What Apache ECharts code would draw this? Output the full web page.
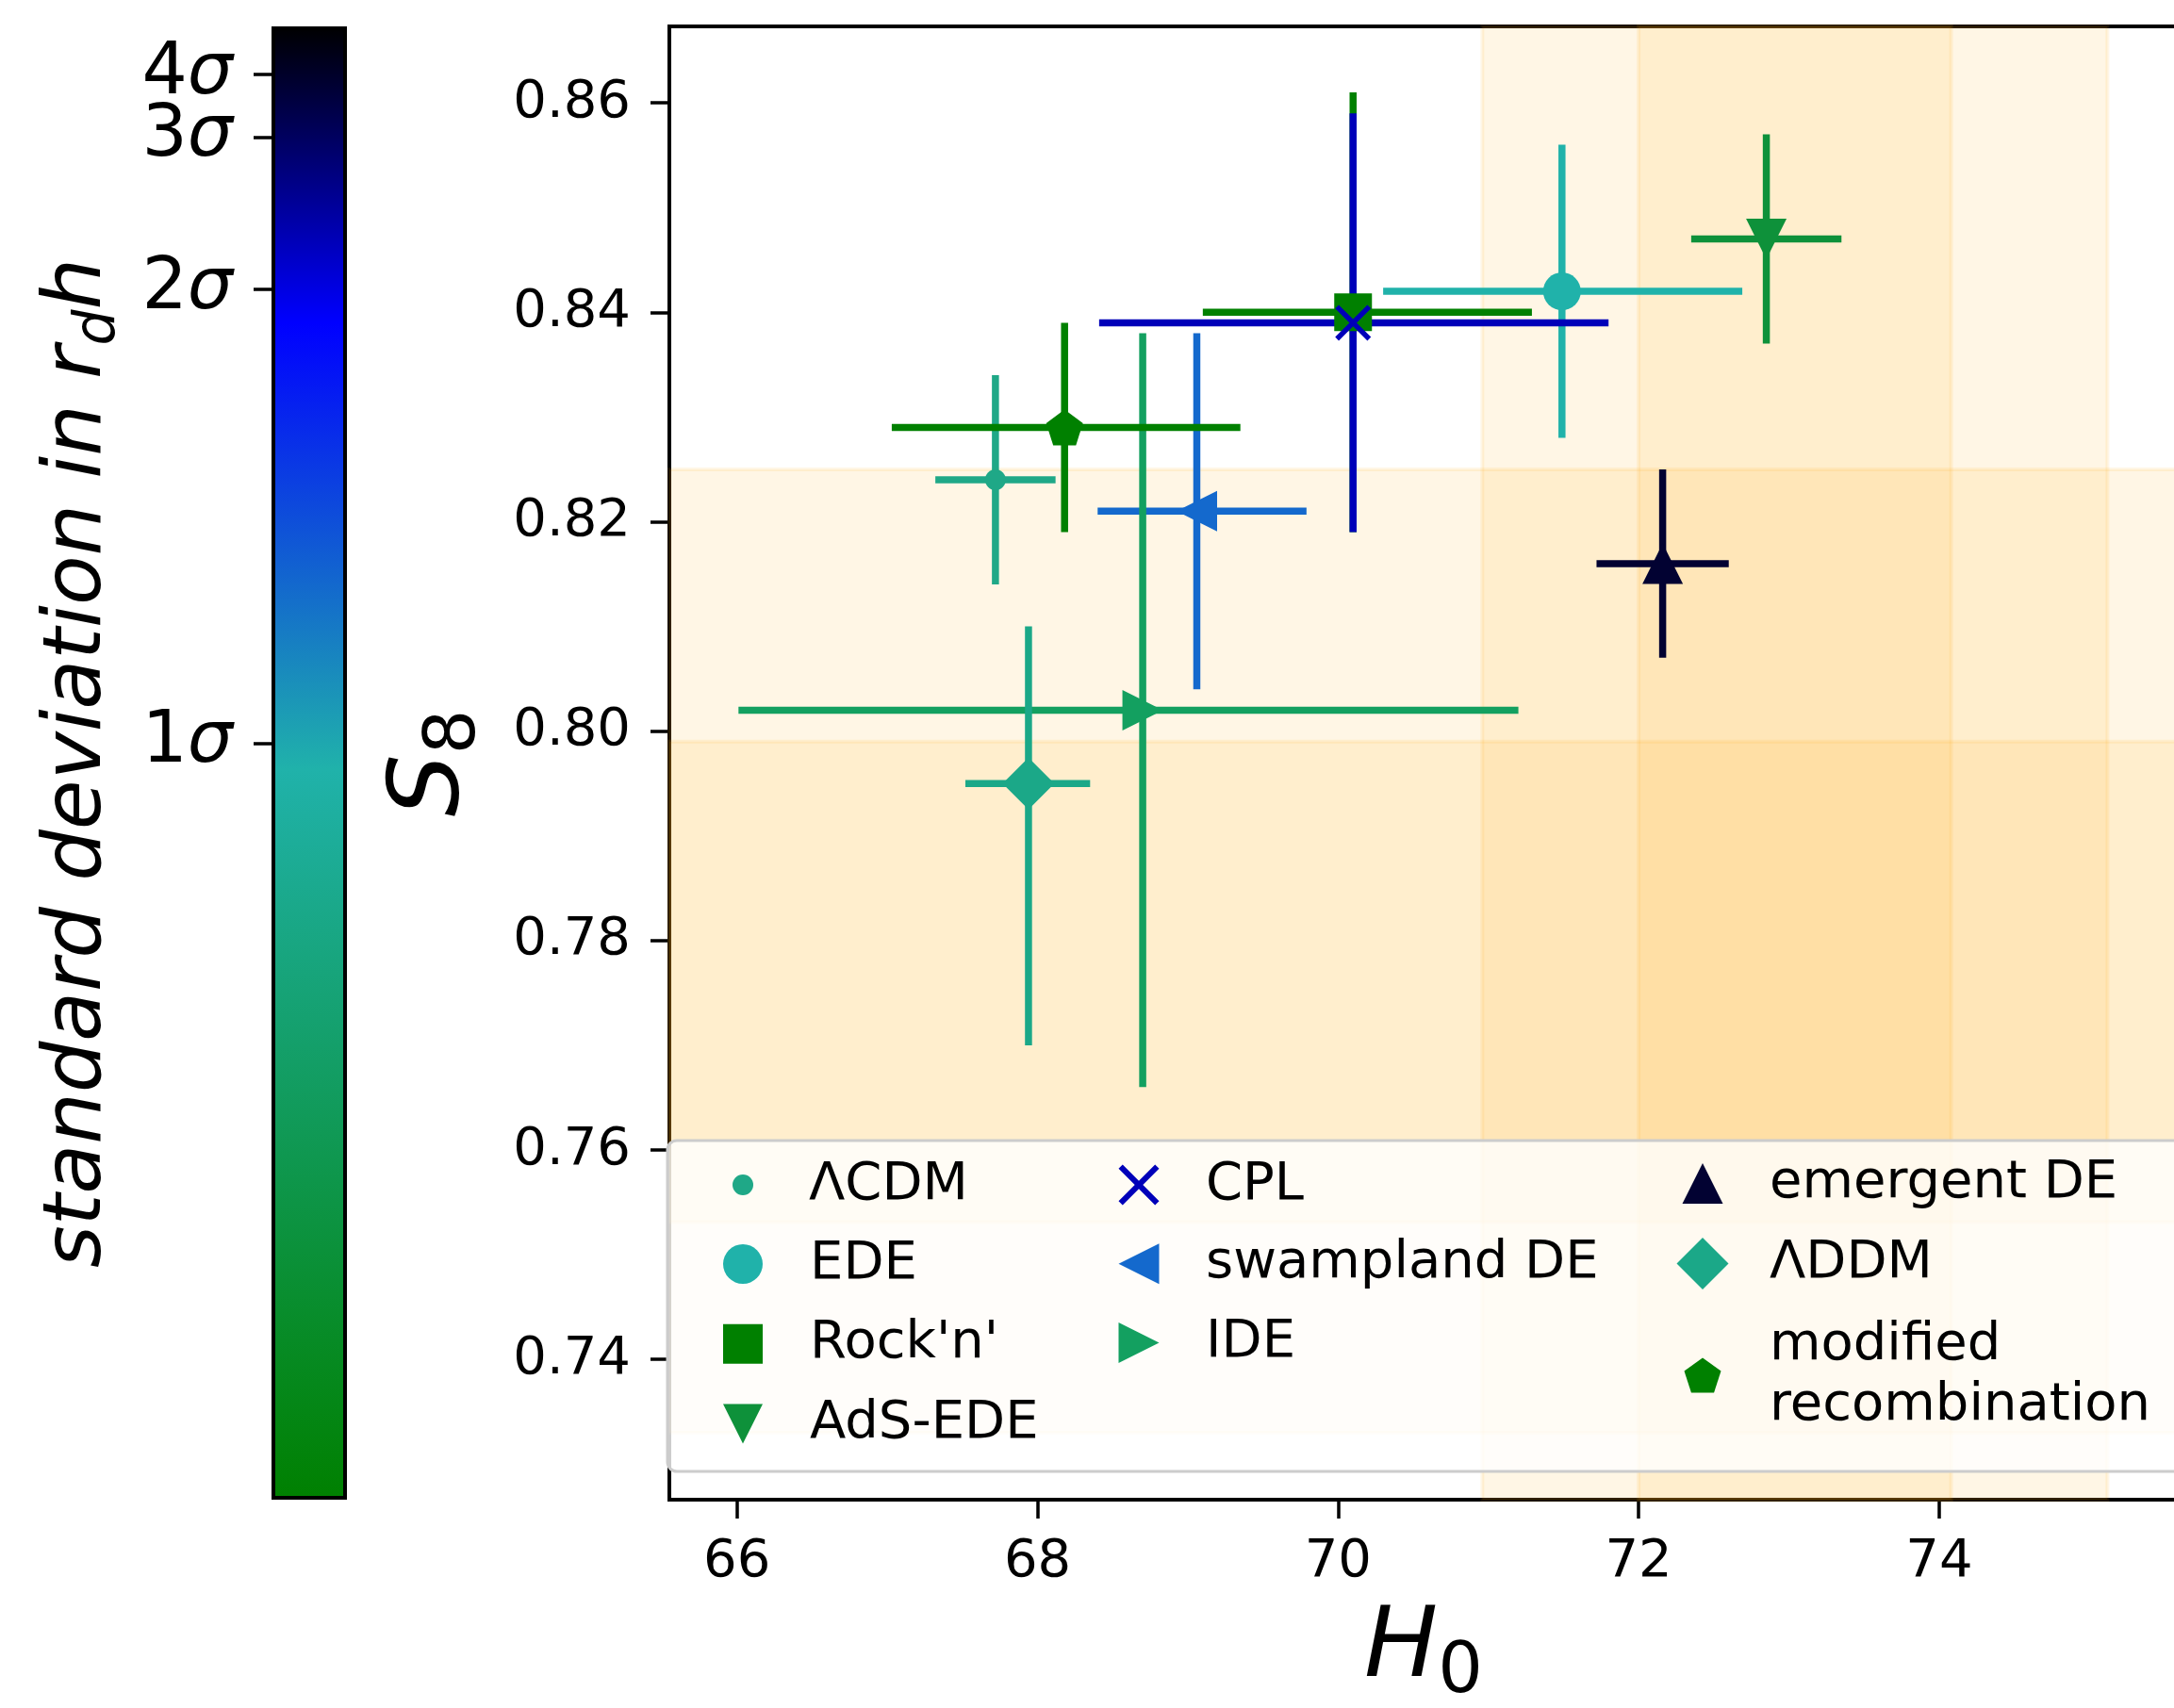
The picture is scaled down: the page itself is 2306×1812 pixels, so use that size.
<!DOCTYPE html>
<html><head><meta charset="utf-8">
<script src="https://cdn.jsdelivr.net/npm/echarts@6/dist/echarts.min.js"></script>
<style>html,body{margin:0;padding:0;background:#fff}#c{width:2306px;height:1812px}</style>
</head><body><div id="c"></div>
<script>
// ---------------- data ----------------
const models = ['ΛCDM', 'EDE', "Rock'n'", 'AdS-EDE', 'CPL', 'swampland DE', 'IDE', 'emergent DE', 'ΛDDM', 'modified\nrecombination'];
const h0        = [67.72, 71.49, 70.10, 72.85, 70.10, 69.06, 68.70, 72.16, 67.94, 68.18];
const h0ErrLow  = [0.40, 1.19, 1.00, 0.50, 1.69, 0.66, 2.69, 0.44, 0.42, 1.15];
const h0ErrHigh = [0.40, 1.20, 1.19, 0.50, 1.70, 0.73, 2.50, 0.44, 0.41, 1.17];
const s8        = [0.824, 0.842, 0.840, 0.847, 0.839, 0.821, 0.802, 0.816, 0.795, 0.829];
const s8ErrLow  = [0.010, 0.014, 0.021, 0.010, 0.020, 0.017, 0.036, 0.009, 0.025, 0.010];
const s8ErrHigh = [0.010, 0.014, 0.021, 0.010, 0.020, 0.017, 0.036, 0.009, 0.015, 0.010];

// reference bands (1σ / 2σ)
const h0BandLo = [70.96, 72.00];
const h0BandHi = [75.12, 74.08];
const s8BandLo = [0.733, 0.7531];
const s8BandHi = [0.825, 0.7990];

// axis ticks
const h0Ticks = [66, 68, 70, 72, 74];
const s8Ticks = [0.74, 0.76, 0.78, 0.80, 0.82, 0.84, 0.86];

// colorbar ticks (fraction of bar height from bottom) and labels
const cbTickPos = [0.5134, 0.8214, 0.9248, 0.9673];
const cbTickLabels = ['1', '2', '3', '4'];

// ---------------- styles ----------------
const colors = ['#1fa887', '#20b2aa', '#008000', '#0e913a', '#0000b9', '#1469cd', '#13a060', '#020232', '#1ba888', '#008000'];
const P_DOWN = 'path://M0,0L100,0L50,100Z';
const P_LEFT = 'path://M0,50L100,0L100,100Z';
const P_RIGHT = 'path://M0,0L100,50L0,100Z';
const P_X = 'path://M0,10L10,0L50,40L90,0L100,10L60,50L100,90L90,100L50,60L10,100L0,90L40,50Z';
const P_PENT = 'path://M50,0L97.55,34.55L79.39,90.45L20.61,90.45L2.45,34.55Z';
const symbols = ['circle', 'circle', 'rect', P_DOWN, P_X, P_LEFT, P_RIGHT, 'triangle', 'diamond', P_PENT];
const symbolSizes = [22, 40, 40, 43, 38, 43, 43, 43, 55, [39, 38]];
const cbStops = [
  {offset: 0, color: '#000000'},
  {offset: 0.2013, color: '#0000ff'},
  {offset: 0.5045, color: '#20b2aa'},
  {offset: 1, color: '#008000'}
];
const FONT = 'DejaVu Sans';
const BAND = 'rgba(255,165,0,0.1)';
const X_MIN = 65.55, X_MAX = 75.588, Y_MIN = 0.7266, Y_MAX = 0.8673;

// ---------------- series ----------------
const series = [];
series.push({
  type: 'custom', name: '_h0band', silent: true, z: 1,
  xAxisIndex: 0, yAxisIndex: 0,
  data: h0BandLo.map((lo, i) => [lo, h0BandHi[i]]),
  encode: {x: [0, 1]},
  renderItem: (params, api) => {
    const cs = params.coordSys;
    const a = api.coord([api.value(0), 0.8]), b = api.coord([api.value(1), 0.8]);
    return {type: 'rect', shape: {x: a[0], y: cs.y, width: b[0] - a[0], height: cs.height},
            style: {fill: BAND, stroke: BAND, lineWidth: 4}};
  }
});
series.push({
  type: 'custom', name: '_s8band', silent: true, z: 1,
  xAxisIndex: 0, yAxisIndex: 0,
  data: s8BandLo.map((lo, i) => [lo, s8BandHi[i]]),
  encode: {y: [0, 1]},
  renderItem: (params, api) => {
    const cs = params.coordSys;
    const a = api.coord([70, api.value(0)]), b = api.coord([70, api.value(1)]);
    return {type: 'rect', shape: {x: cs.x, y: b[1], width: cs.width, height: a[1] - b[1]},
            style: {fill: BAND, stroke: BAND, lineWidth: 4}};
  }
});
models.forEach((m, i) => {
  const col = colors[i];
  series.push({
    type: 'custom', name: '_err' + i, silent: true, z: 2,
    xAxisIndex: 0, yAxisIndex: 0,
    data: [[h0[i], s8[i], h0[i] - h0ErrLow[i], h0[i] + h0ErrHigh[i], s8[i] - s8ErrLow[i], s8[i] + s8ErrHigh[i]]],
    encode: {x: [0, 2, 3], y: [1, 4, 5]},
    renderItem: (params, api) => {
      const x = api.value(0), y = api.value(1);
      const a = api.coord([api.value(2), y]), b = api.coord([api.value(3), y]);
      const c = api.coord([x, api.value(4)]), d = api.coord([x, api.value(5)]);
      return {type: 'group', children: [
        {type: 'line', shape: {x1: c[0], y1: c[1], x2: d[0], y2: d[1]}, style: {stroke: col, lineWidth: 7.5}},
        {type: 'line', shape: {x1: a[0], y1: a[1], x2: b[0], y2: b[1]}, style: {stroke: col, lineWidth: 7.5}}
      ]};
    }
  });
  series.push({
    type: 'scatter', name: m, z: 2,
    xAxisIndex: 0, yAxisIndex: 0,
    data: [[h0[i], s8[i]]],
    symbol: symbols[i], symbolSize: symbolSizes[i],
    itemStyle: {color: col, opacity: 1},
    emphasis: {disabled: true}
  });
});
// colorbar
series.push({
  type: 'bar', name: '_cbar', xAxisIndex: 1, yAxisIndex: 1, silent: true,
  data: [1], barWidth: '100%',
  itemStyle: {color: {type: 'linear', x: 0, y: 0, x2: 0, y2: 1, colorStops: cbStops}, borderColor: '#000', borderWidth: 4}
});

// ---------------- legends ----------------
function iconOf(name) { return symbols[models.indexOf(name)]; }
function mkLegend(names, left, top, size, pad, gap) {
  return {
    show: true, orient: 'vertical', left: left, top: top, padding: 0, z: 10,
    itemWidth: Array.isArray(size) ? size[0] : size, itemHeight: Array.isArray(size) ? size[1] : size,
    itemGap: gap, selectedMode: false,
    data: names.map(n => ({name: n, icon: iconOf(n)})),
    textStyle: {fontFamily: FONT, fontSize: 56, color: '#000', lineHeight: 64, padding: [0, 0, 0, pad]}
  };
}
const legends = [
  mkLegend(['ΛCDM'], 777, 1225, 22, 54, 20),
  mkLegend(['EDE', "Rock'n'", 'AdS-EDE'], 767, 1309, 42, 45, 20.8),
  mkLegend(['CPL', 'swampland DE', 'IDE'], 1186.5, 1225, 43, 44.5, 19.8),
  mkLegend(['emergent DE'], 1784.5, 1223.5, 43, 44.5, 10),
  mkLegend(['ΛDDM'], 1778.5, 1308.5, 55, 38.5, 10),
  mkLegend(['modified\nrecombination'], 1786.5, 1395, [39, 38], 46.5, 10)
];

// colorbar tick split across two overlaid axes so neighbouring labels are never dropped
function cbAxis(idxList, withName) {
  const vals = idxList.map(k => cbTickPos[k]);
  const ax = {type: 'value', gridIndex: 1, min: 0, max: 1, position: 'left', offset: 0,
    axisLine: {show: false},
    axisTick: {show: true, length: 19, lineStyle: {color: '#000', width: 3.5}, customValues: vals},
    axisLabel: {customValues: vals, margin: 41, hideOverlap: false, showMinLabel: true, showMaxLabel: true,
      formatter: v => { const k = cbTickPos.findIndex(p => Math.abs(p - v) < 1e-6); return k < 0 ? '' : '{n|' + cbTickLabels[k] + '}{g|σ}'; },
      rich: {n: {fontFamily: FONT, fontSize: 76, color: '#000'}, g: {fontFamily: FONT, fontStyle: 'italic', fontSize: 76, color: '#000'}}},
    splitLine: {show: false}};
  if (withName) {
    Object.assign(ax, {
      name: '{t|standard deviation in }{t|r}{d|d}{t|h}', nameLocation: 'middle', nameGap: 153, nameRotate: 90, nameMoveOverlap: false,
      nameTextStyle: {rich: {
        t: {fontFamily: FONT, fontStyle: 'italic', fontSize: 86, color: '#000', padding: [0, 0, 8, 0], verticalAlign: 'bottom'},
        d: {fontFamily: FONT, fontStyle: 'italic', fontSize: 60, color: '#000', verticalAlign: 'bottom'}
      }}
    });
  }
  return ax;
}

const axisLineStyle = {color: '#000', width: 4};
const option = {
  animation: false,
  backgroundColor: '#fff',
  grid: [
    {left: 710, top: 28, width: 1600, height: 1563, show: true, borderColor: '#000', borderWidth: 4, outerBoundsMode: 'none', containLabel: false},
    {left: 288, top: 28, width: 80, height: 1563, outerBoundsMode: 'none', containLabel: false}
  ],
  xAxis: [
    {type: 'value', gridIndex: 0, min: X_MIN, max: X_MAX,
     axisLine: {show: true, onZero: false, lineStyle: axisLineStyle},
     axisTick: {show: true, length: 20, lineStyle: {color: '#000', width: 3.5}, customValues: h0Ticks},
     axisLabel: {customValues: h0Ticks, margin: 38, fontFamily: FONT, fontSize: 56, color: '#000', formatter: v => String(v)},
     splitLine: {show: false},
     name: '{i|H}{s|0}', nameLocation: 'middle', nameGap: 108, nameMoveOverlap: false,
     nameTextStyle: {rich: {
       i: {fontFamily: FONT, fontStyle: 'italic', fontSize: 104, color: '#000', padding: [0, 0, 10, 0], verticalAlign: 'bottom'},
       s: {fontFamily: FONT, fontSize: 75, color: '#000', verticalAlign: 'bottom'}
     }}},
    {type: 'category', gridIndex: 1, data: ['cb'], show: false, boundaryGap: true}
  ],
  yAxis: [
    {type: 'value', gridIndex: 0, min: Y_MIN, max: Y_MAX,
     axisLine: {show: true, onZero: false, lineStyle: axisLineStyle},
     axisTick: {show: true, length: 20, lineStyle: {color: '#000', width: 3.5}, customValues: s8Ticks},
     axisLabel: {customValues: s8Ticks, margin: 41, fontFamily: FONT, fontSize: 56, color: '#000', formatter: v => v.toFixed(2)},
     splitLine: {show: false},
     name: '{i|S}{s|8}', nameLocation: 'middle', nameGap: 189, nameRotate: 90, nameMoveOverlap: false,
     nameTextStyle: {rich: {
       i: {fontFamily: FONT, fontStyle: 'italic', fontSize: 104, color: '#000', padding: [0, 0, 10, 0], verticalAlign: 'bottom'},
       s: {fontFamily: FONT, fontSize: 75, color: '#000', verticalAlign: 'bottom'}
     }}},
    cbAxis([0, 2], true),
    cbAxis([1, 3], false)
  ],
  legend: legends,
  graphic: [{
    type: 'rect', z: 6, silent: true,
    shape: {x: 708, y: 1210, width: 1700, height: 351, r: 10},
    style: {fill: 'rgba(255,255,255,0.8)', stroke: '#cccccc', lineWidth: 3}
  }],
  series: series
};
const chart = echarts.init(document.getElementById('c'), null, {renderer: 'canvas', width: 2306, height: 1812});
chart.setOption(option);
</script>
</body></html>
